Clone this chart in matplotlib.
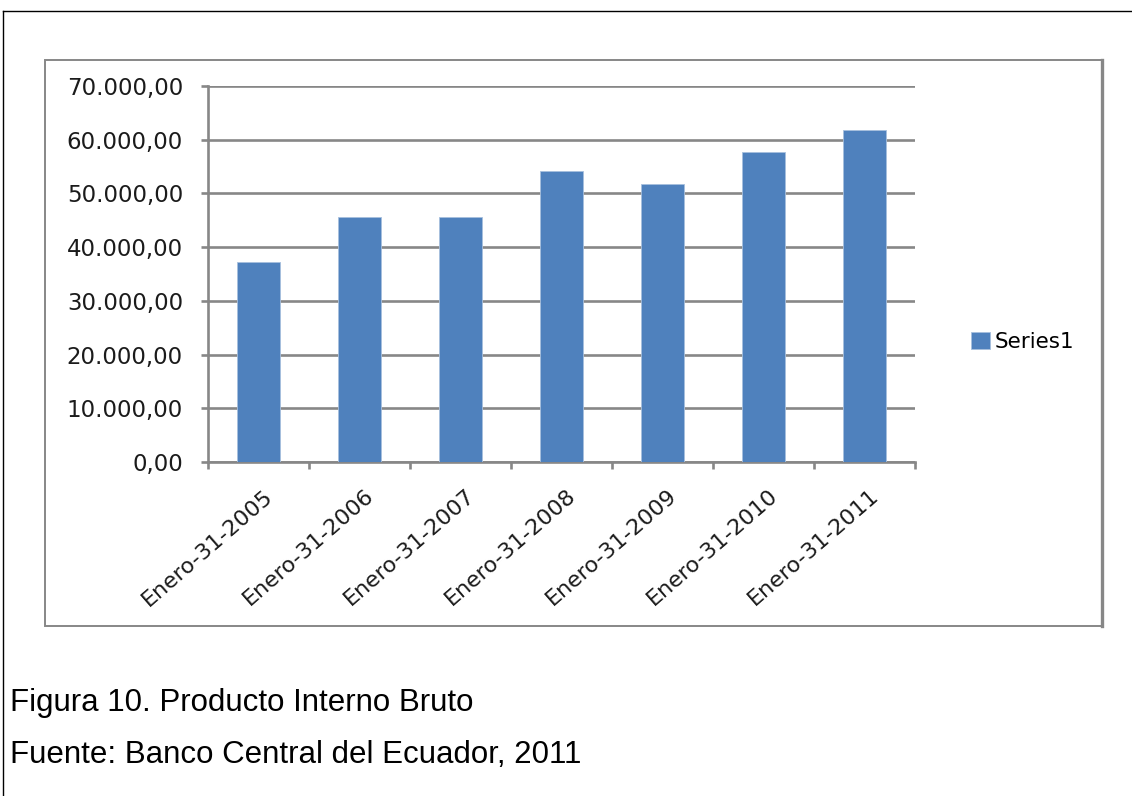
"""PIB Ecuador, bar chart in the old Excel style with caption below."""

import matplotlib
matplotlib.use("Agg")
import matplotlib.pyplot as plt
from matplotlib.lines import Line2D
from matplotlib.patches import Rectangle
from matplotlib.ticker import FuncFormatter, FixedLocator
import matplotlib.transforms as mtransforms

categories = [
    "Enero-31-2005", "Enero-31-2006", "Enero-31-2007", "Enero-31-2008",
    "Enero-31-2009", "Enero-31-2010", "Enero-31-2011",
]
pib = [37200, 45700, 45700, 54200, 51800, 57700, 61800]
y_ticks = [0, 10000, 20000, 30000, 40000, 50000, 60000, 70000]
series_name = "Series1"
caption = ["Figura 10. Producto Interno Bruto",
           "Fuente: Banco Central del Ecuador, 2011"]

BAR = "#4f81bd"
AXIS = "#878787"
W, H = 1132, 796


def es_fmt(v, _pos):
    s = f"{v:,.2f}"
    return s.replace(",", "X").replace(".", ",").replace("X", ".")


def main() -> None:
    fig = plt.figure(figsize=(W / 100, H / 100), dpi=100)

    # page frame (top and left rule) and chart box
    fig.add_artist(Line2D([3 / W, 1], [1 - 11 / H] * 2, color="black", lw=1))
    fig.add_artist(Line2D([3 / W] * 2, [0, 1 - 11 / H], color="black", lw=1))
    fig.add_artist(Rectangle((45 / W, 1 - 626 / H), (1102 - 45) / W,
                             (626 - 60) / H, fill=False, ec=AXIS, lw=1.4))
    fig.add_artist(Line2D([1102 / W] * 2, [1 - 626 / H, 1 - 60 / H],
                          color=AXIS, lw=2.4))

    ax = fig.add_axes([208 / W, 1 - 462 / H, (915 - 208) / W, (462 - 86) / H])
    x = range(len(categories))
    ax.bar(x, pib, width=0.42, color=BAR, edgecolor="#a7c0de", lw=0.6,
           label=series_name, zorder=3)

    ax.set_xlim(-0.5, len(categories) - 0.5)
    ax.set_ylim(0, 70000)
    ax.yaxis.set_major_locator(FixedLocator(y_ticks))
    ax.yaxis.set_major_formatter(FuncFormatter(es_fmt))
    ax.grid(axis="y", color=AXIS, lw=1.9, zorder=1)

    for side in ("top", "right"):
        ax.spines[side].set_visible(False)
    for side in ("left", "bottom"):
        ax.spines[side].set_color(AXIS)
        ax.spines[side].set_linewidth(1.9)

    ax.tick_params(axis="y", length=5, width=1.9, color=AXIS, pad=13)
    for lab in ax.get_yticklabels():
        lab.set(family=["DejaVu Sans"], size=16.5, color="#1b1b1b")

    ax.set_xticks(list(x))
    ax.set_xticks([i - 0.5 for i in range(len(categories) + 1)], minor=True)
    ax.tick_params(axis="x", which="major", length=0, pad=17)
    ax.tick_params(axis="x", which="minor", length=5, width=1.9, color=AXIS)
    shift = mtransforms.ScaledTranslation(5 / 100, 0, fig.dpi_scale_trans)
    ax.set_xticklabels(categories, rotation=41, ha="right", va="top",
                       rotation_mode="anchor", family=["DejaVu Sans"],
                       size=16, color="#1b1b1b")
    for lab in ax.get_xticklabels():
        lab.set_transform(lab.get_transform() + shift)

    ax.legend(loc="center left", bbox_to_anchor=(952 / W, 1 - 342 / H),
              bbox_transform=fig.transFigure, frameon=False,
              handlelength=0.85, handleheight=0.85, handletextpad=0.25,
              prop=dict(family=["DejaVu Sans"], size=15.5))

    for i, line in enumerate(caption):
        fig.text(10 / W, 1 - (703 + 52 * i) / H, line, ha="left", va="center",
                 family=["Liberation Sans", "DejaVu Sans"], size=22.5,
                 color="black")

    fig.savefig("out.png", dpi=100)
    plt.close(fig)


if __name__ == "__main__":
    main()
